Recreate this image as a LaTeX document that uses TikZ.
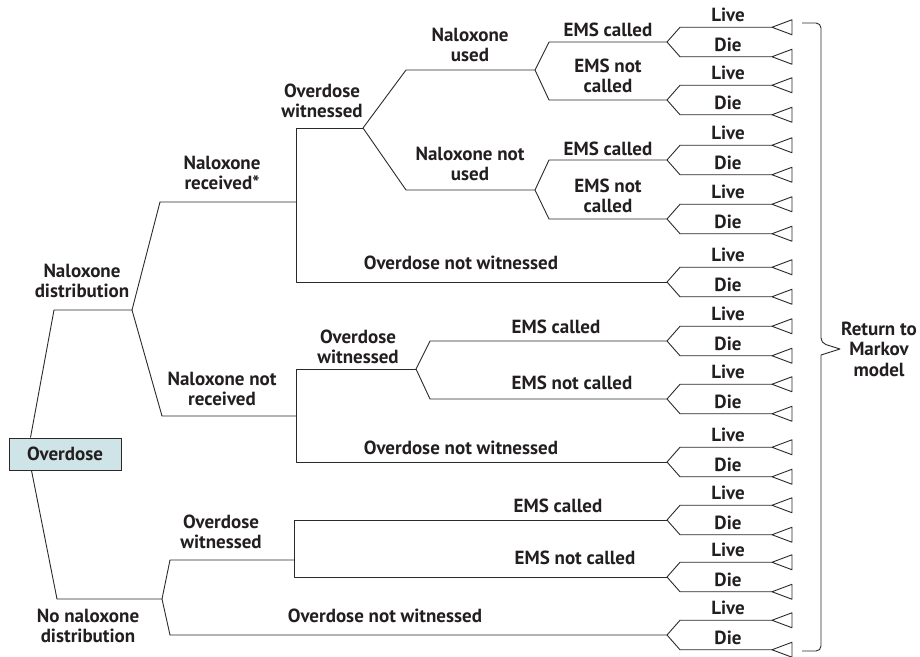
\documentclass[tikz,border=0pt]{standalone}
\usepackage{fontspec}
\setmainfont{PT Sans}
\definecolor{ln}{HTML}{2A2A2A}
\definecolor{tx}{HTML}{231F20}
\definecolor{boxfill}{HTML}{CFE4E7}
\begin{document}
\begin{tikzpicture}[x=1pt,y=-1pt,
  conn/.style={draw=ln, line width=0.9pt, line join=round},
  lbl/.style={text=tx, font=\fontsize{19}{20.5}\selectfont\bfseries, align=center, inner sep=0pt},
  rootbox/.style={draw=ln, fill=boxfill, line width=1pt, minimum width=112pt, minimum height=32pt, inner sep=0pt, text=tx, font=\fontsize{19}{20.5}\selectfont\bfseries}
]
\useasboundingbox (0,0) rectangle (920,656);

% root
\node[rootbox] (od) at (65,454) {Overdose};
\coordinate (odT) at ([xshift=22pt]od.north west);
\coordinate (odB) at ([xshift=23pt]od.south west);

% branch points
\coordinate (nd0) at (54,310);   \coordinate (nd1) at (132,310);
\coordinate (nr0) at (160,202);  \coordinate (nr1) at (296,202);
\coordinate (owA0) at (296,128); \coordinate (owA1) at (363,128);
\coordinate (onwA0) at (296,282);\coordinate (onwA1) at (667,282);
\coordinate (nu0) at (406,70);   \coordinate (nu1) at (535,70);
\coordinate (nnu0) at (406,190); \coordinate (nnu1) at (535,190);
\coordinate (e1a) at (549,42);   \coordinate (e1b) at (667,42);
\coordinate (e2a) at (549,100);  \coordinate (e2b) at (667,100);
\coordinate (e3a) at (549,160);  \coordinate (e3b) at (667,160);
\coordinate (e4a) at (549,219);  \coordinate (e4b) at (667,219);

\coordinate (nnr0) at (162,416); \coordinate (nnr1) at (296,416);
\coordinate (owB0) at (296,369); \coordinate (owB1) at (416,369);
\coordinate (onwB0) at (296,462);\coordinate (onwB1) at (667,462);
\coordinate (e5a) at (430,341);  \coordinate (e5b) at (667,341);
\coordinate (e6a) at (430,399);  \coordinate (e6b) at (667,399);

\coordinate (nn0) at (57,599);   \coordinate (nn1) at (162,599);
\coordinate (owC0) at (170,560); \coordinate (owC1) at (294,560);
\coordinate (e7a) at (294,520);  \coordinate (e7b) at (667,520);
\coordinate (e8a) at (294,577);  \coordinate (e8b) at (667,577);
\coordinate (onwC0) at (170,635);\coordinate (onwC1) at (667,635);

% connectors
\draw[conn] (odT) -- (nd0) -- (nd1);
\draw[conn] (nd1) -- (nr0) -- (nr1);
\draw[conn] (owA1) -- (owA0) -- (onwA0) -- (onwA1);
\draw[conn] (owA1) -- (nu0) -- (nu1);
\draw[conn] (owA1) -- (nnu0) -- (nnu1);
\draw[conn] (nu1) -- (e1a) -- (e1b);
\draw[conn] (nu1) -- (e2a) -- (e2b);
\draw[conn] (nnu1) -- (e3a) -- (e3b);
\draw[conn] (nnu1) -- (e4a) -- (e4b);

\draw[conn] (nd1) -- (nnr0) -- (nnr1);
\draw[conn] (owB1) -- (owB0) -- (onwB0) -- (onwB1);
\draw[conn] (owB1) -- (e5a) -- (e5b);
\draw[conn] (owB1) -- (e6a) -- (e6b);

\draw[conn] (odB) -- (nn0) -- (nn1);
\draw[conn] (nn1) -- (owC0) -- (owC1);
\draw[conn] (e7b) -- (e7a) -- (e8a) -- (e8b);
\draw[conn] (nn1) -- (onwC0) -- (onwC1);

% leaves
\foreach \p in {e1b,e2b,e3b,e4b,onwA1,e5b,e6b,onwB1,e7b,e8b,onwC1}{
  \path (\p) ++(13,-14.75) coordinate (\p-u1) ++(92,0) coordinate (\p-u2);
  \path (\p) ++(13,14.75) coordinate (\p-d1) ++(92,0) coordinate (\p-d2);
  \draw[conn] (\p) -- (\p-u1) -- (\p-u2);
  \draw[conn] (\p) -- (\p-d1) -- (\p-d2);
  \draw[conn] (\p-u2) -- ++(20,-7.5) -- ++(0,15) -- cycle;
  \draw[conn] (\p-d2) -- ++(20,-7.5) -- ++(0,15) -- cycle;
  \node[lbl] at ([shift={(48,-12)}]\p-u1) {Live};
  \node[lbl] at ([shift={(48,-12)}]\p-d1) {Die};
}

% labels
\node[lbl] (lnu) at (470,45) {Naloxone\\used};
\node[lbl] (lowA) at (322,101) {Overdose\\witnessed};
\node[lbl] (lnr) at (222,173) {Naloxone\\received*};
\node[lbl] (lnd) at (82,281) {Naloxone\\distribution};
\node[lbl] (lnnu) at (470,164) {Naloxone not\\used};
\node[lbl] (le1) at (608,30) {EMS called};
\node[lbl] (le2) at (608,76) {EMS not\\called};
\node[lbl] (le3) at (608,149) {EMS called};
\node[lbl] (le4) at (608,196) {EMS not\\called};
\node[lbl] (lonwA) at (461,263) {Overdose not witnessed};
\node[lbl] (lowB) at (358,347) {Overdose\\witnessed};
\node[lbl] (lnnr) at (222,389) {Naloxone not\\received};
\node[lbl] (le5) at (556,327) {EMS called};
\node[lbl] (le6) at (572,383) {EMS not called};
\node[lbl] (lonwB) at (461,448) {Overdose not witnessed};
\node[lbl] (lowC) at (221,532) {Overdose\\witnessed};
\node[lbl] (lnn) at (88,626) {No naloxone\\distribution};
\node[lbl] (le7) at (558,506) {EMS called};
\node[lbl] (le8) at (575,558) {EMS not called};
\node[lbl] (lonwC) at (385,616) {Overdose not witnessed};

% brace
\coordinate (brT) at (802,23);
\coordinate (brB) at (802,651);
\coordinate (brTip) at (840,349);
\draw[conn, rounded corners=5pt] (brT) -- (821,23) -- (821,343) [sharp corners] -- (brTip) -- (821,355) [rounded corners=5pt] -- (821,651) -- (brB);
\node[lbl] (lret) at (879,349) {Return to\\Markov\\model};
\end{tikzpicture}
\end{document}
